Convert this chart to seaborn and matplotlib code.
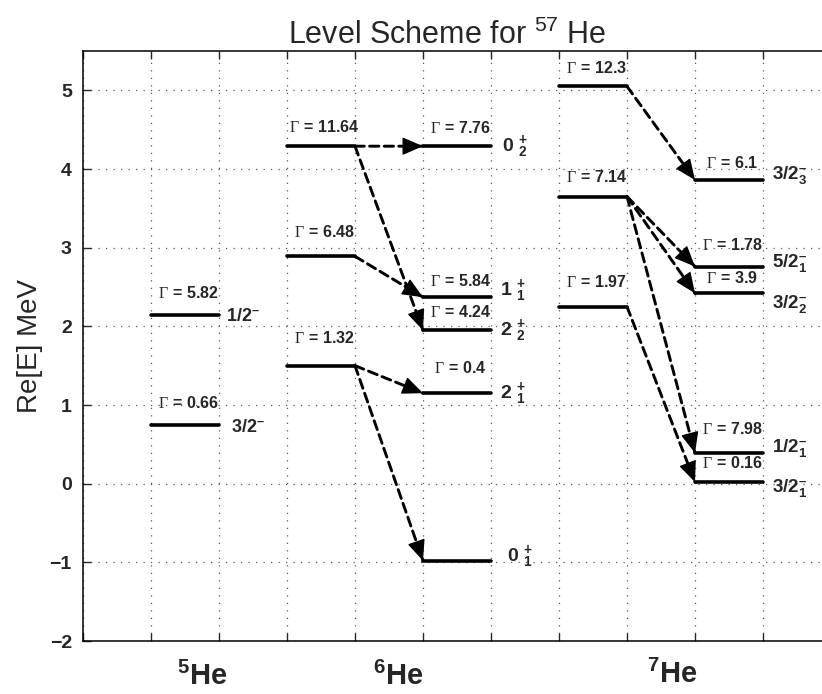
import matplotlib
matplotlib.use('Agg')
import matplotlib.pyplot as plt
import pandas as pd
import seaborn as sns

# 5He levels (Re[E] in MeV) and widths
he5_E = [0.74, 2.15]
he5_G = [0.66, 5.82]
he5_J = ['3/2^{–}', '1/2^{–}']

# 6He: resonances (left column) and final states (right column)
he6_res_E = [1.50, 2.89, 4.29]
he6_res_G = [1.32, 6.48, 11.64]
he6_E = [-0.98, 1.15, 1.95, 2.37, 4.29]
he6_G = [None, 0.4, 4.24, 5.84, 7.76]
he6_J = [r'0\ {}^{+}_{1}', r'2\ {}^{+}_{1}', r'2\ {}^{+}_{2}', r'1\ {}^{+}_{1}', r'0\ {}^{+}_{2}']
he6_from = [1.50, 1.50, 4.29, 2.89, 4.29]

# 7He
he7_res_E = [2.25, 3.65, 5.05]
he7_res_G = [1.97, 7.14, 12.3]
he7_E = [0.02, 0.39, 2.42, 2.76, 3.86]
he7_G = [0.16, 7.98, 3.9, 1.78, 6.1]
he7_J = ['3/2^{–}_{1}', '1/2^{–}_{1}', '3/2^{–}_{2}', '5/2^{–}_{1}', '3/2^{–}_{3}']
he7_from = [2.25, 3.65, 3.65, 3.65, 5.05]

nuclei = [r'$\mathbf{{}^{5}He}$', r'$\mathbf{{}^{6}He}$', r'$\mathbf{{}^{7}He}$']

# layout (column start x, label offsets)
cols = [
    dict(x0=1, E=he5_E, G=he5_G, goff=[0.29, 0.28]),
    dict(x0=3, E=he6_res_E, G=he6_res_G, goff=[0.35, 0.31, 0.25]),
    dict(x0=5, E=he6_E, G=he6_G, goff=[0, 0.32, 0.23, 0.20, 0.23]),
    dict(x0=7, E=he7_res_E, G=he7_res_G, goff=[0.31, 0.25, 0.23]),
    dict(x0=9, E=he7_E, G=he7_G, goff=[0.24, 0.31, 0.19, 0.27, 0.21]),
]

sns.set_style('ticks')
plt.rcParams['font.family'] = ['Liberation Sans', 'DejaVu Sans']
plt.rcParams['mathtext.fontset'] = 'custom'
plt.rcParams['mathtext.rm'] = 'Liberation Sans'
plt.rcParams['mathtext.bf'] = 'Liberation Sans:bold'
plt.rcParams['mathtext.it'] = 'Liberation Sans:italic'
plt.rcParams['mathtext.cal'] = 'Liberation Serif'

fig = plt.figure(figsize=(8.22, 6.94), dpi=100)
ax = fig.add_axes([83 / 822, 1 - 641 / 694, 748 / 822, 590 / 694])

# level lines
rows = []
k = 0
for c in cols:
    for e in c['E']:
        rows.append({'x': c['x0'], 'E': e, 'lev': k})
        rows.append({'x': c['x0'] + 1, 'E': e, 'lev': k})
        k += 1
levels = pd.DataFrame(rows)
sns.lineplot(data=levels, x='x', y='E', units='lev', estimator=None, sort=False,
             color='k', linewidth=2.6, legend=False, ax=ax)

# widths above each level
for c in cols:
    for e, g, off in zip(c['E'], c['G'], c['goff']):
        if g is None:
            continue
        ax.text(c['x0'] + 0.55, e + off, r'$\mathcal{\Gamma}\,\mathbf{=}\,\mathbf{%s}$' % g,
                ha='center', va='center', fontsize=11.5)

# decays: dashed shaft + solid head
shaft = dict(arrowstyle='-', color='k', lw=2.1, linestyle=(0, (3.2, 1.8)),
             shrinkA=0, shrinkB=0)
head = dict(arrowstyle='-|>,head_length=0.65,head_width=0.28', mutation_scale=20,
            color='k', lw=1, shrinkA=0, shrinkB=0)


def decay(x1, y1, x2, y2):
    ax.annotate('', xy=(x2, y2), xytext=(x1, y1), arrowprops=shaft)
    ax.annotate('', xy=(x2, y2), xytext=(x2 - 0.02 * (x2 - x1), y2 - 0.02 * (y2 - y1)),
                arrowprops=head)


for src, dst in zip(he6_from, he6_E):
    decay(4, src, 5, dst)
for src, dst in zip(he7_from, he7_E):
    decay(8, src, 9, dst)

# spin/parity labels
for e, j, dx, dy in zip(he5_E, he5_J, [2.17, 2.1], [-0.02, -0.02]):
    ax.text(dx, e + dy, '$\\mathbf{%s}$' % j, ha='left', va='center', fontsize=13)
for e, j, dx, dy in zip(he6_E, he6_J, [6.23, 6.13, 6.13, 6.13, 6.16],
                        [0.06, 0, 0, 0.08, 0]):
    ax.text(dx, e + dy, '$\\mathbf{%s}$' % j, ha='left', va='center', fontsize=14)
for e, j, dy in zip(he7_E, he7_J, [-0.08, 0.06, -0.13, 0.04, 0.06]):
    ax.text(10.13, e + dy, '$\\mathbf{%s}$' % j, ha='left', va='center', fontsize=13.5)

for name, xn, yn in zip(nuclei, [1.75, 4.63, 8.66], [-2.56, -2.56, -2.53]):
    ax.text(xn, yn, name, ha='center', va='baseline', fontsize=21, clip_on=False)

ax.set_xlim(0, 11)
ax.set_ylim(-2, 5.5)
ax.set_xticks(range(0, 12))
ax.set_xticklabels([])
ax.set_yticks(range(-2, 6))
ax.set_xlabel('')
ax.set_ylabel('Re[E] MeV', fontsize=20, labelpad=5)
ax.tick_params(axis='both', direction='in', length=6, width=1, top=True, right=True)
ax.tick_params(axis='y', labelsize=14, pad=8)
for t in ax.get_yticklabels():
    t.set_fontweight('bold')
ax.grid(True, color='0.35', linestyle=(0, (1, 5)), linewidth=0.9)
for s in ax.spines.values():
    s.set_linewidth(1.1)
    s.set_color('k')
ax.set_title(r'Level Scheme for $^{57}$ He', fontsize=22, x=0.487, pad=5)

fig.savefig('out.png', dpi=100)
